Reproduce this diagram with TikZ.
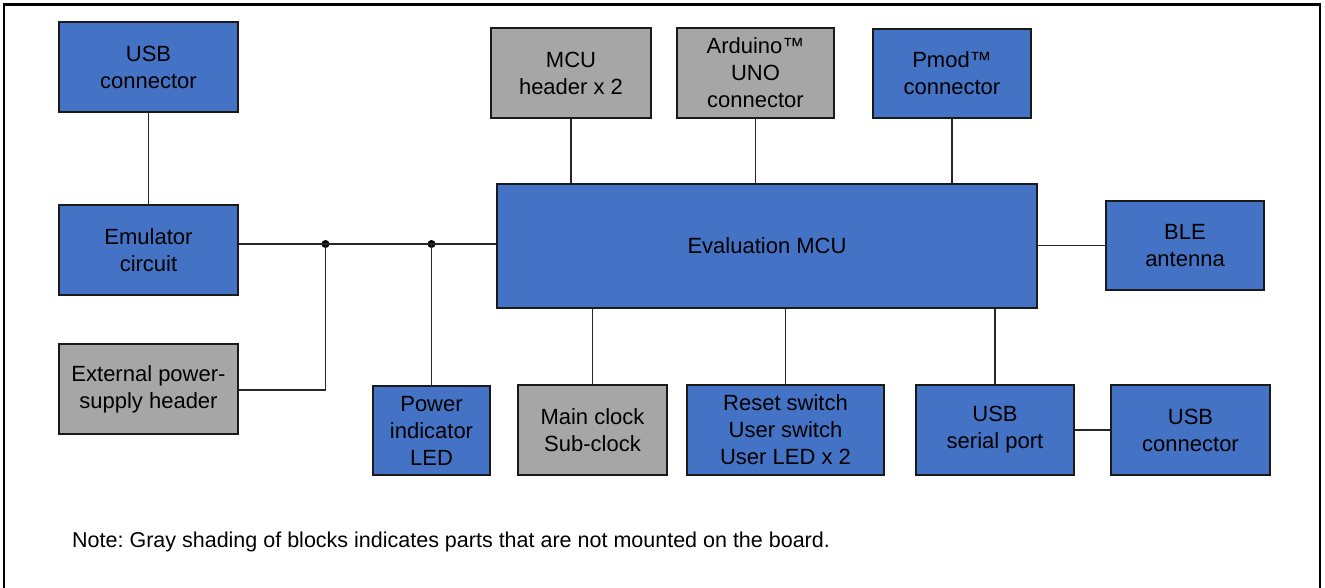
\documentclass[tikz,border=0pt]{standalone}
\usepackage{fontspec}
\setmainfont{Liberation Sans}
\frenchspacing
\definecolor{blk}{HTML}{4472C4}
\definecolor{gry}{HTML}{A6A6A6}
\definecolor{edge}{HTML}{1A1A1A}
\definecolor{wire}{HTML}{262626}
\begin{document}
\begin{tikzpicture}[x=1pt,y=-1pt,
  box/.style={draw=edge,line width=1.3pt,fill=blk,align=center,inner sep=0pt,
    font=\fontsize{22}{27}\selectfont},
  graybox/.style={box,fill=gry},
  wireline/.style={draw=wire,line width=1.4pt},
  dot/.style={circle,fill=black,inner sep=0pt,minimum size=8pt}]
\useasboundingbox (0,0) rectangle (1325,587);
% frame
\draw[line width=2.6pt] (4,590) -- (4,4.5) -- (1320,4.5) -- (1320,590);
% boxes
\node[box,minimum width=179pt,minimum height=90pt] (usbA) at (148.5,67) {USB\\connector};
\node[box,minimum width=179pt,minimum height=90pt] (emu) at (148.5,250) {Emulator\\circuit};
\node[graybox,minimum width=179pt,minimum height=90pt] (ext) at (148.5,389) {External power-\\supply header};
\node[box,minimum width=117pt,minimum height=89pt] (led) at (431.5,430.5) {Power\\indicator\\LED};
\node[box,minimum width=540pt,minimum height=124pt] (mcu) at (767,246) {Evaluation MCU};
\node[graybox,minimum width=160pt,minimum height=90pt] (hdr) at (571,73) {MCU\\header x 2};
\node[graybox,minimum width=157pt,minimum height=90pt] (ard) at (755.5,73) {Arduino™\\UNO\\connector};
\node[box,minimum width=158pt,minimum height=89pt] (pmod) at (952,73.5) {Pmod™\\connector};
\node[graybox,minimum width=149pt,minimum height=90pt] (clk) at (592.5,430) {Main clock\\Sub-clock};
\node[box,minimum width=197pt,minimum height=90pt] (rst) at (785.5,430) {Reset switch\\User switch\\User LED x 2};
\node[box,minimum width=158pt,minimum height=90pt] (ser) at (995,430) {USB\\serial port};
\node[box,minimum width=159pt,minimum height=90pt] (usbB) at (1190.5,430) {USB\\connector};
\node[box,minimum width=158pt,minimum height=89pt] (ble) at (1185,245.5) {BLE\\antenna};
% junctions
\node[dot] (j1) at (325.5,244) {};
\node[dot] (j2) at (431.5,244) {};
% connectors
\draw[wireline] (usbA) -- (emu);
\draw[wireline] (emu.east |- j1) -- (j1.center) -- (j2.center) -- (mcu.west |- j2);
\draw[wireline] (ext.east |- 0,390) -- (j1.center |- 0,390) -- (j1.center);
\draw[wireline] (led) -- (j2.center);
\draw[wireline] (hdr) -- (hdr |- mcu.north);
\draw[wireline] (ard) -- (ard |- mcu.north);
\draw[wireline] (pmod) -- (pmod |- mcu.north);
\draw[wireline] (clk) -- (clk |- mcu.south);
\draw[wireline] (rst) -- (rst |- mcu.south);
\draw[wireline] (ser) -- (ser |- mcu.south);
\draw[wireline] (ser) -- (usbB);
\draw[wireline] (mcu.east |- ble) -- (ble);
% note
\node[anchor=base west,inner sep=0pt,font=\fontsize{21.5}{26}\selectfont] (note) at (72,547)
  {Note: Gray shading of blocks indicates parts that are not mounted on the board.};
\end{tikzpicture}
\end{document}
